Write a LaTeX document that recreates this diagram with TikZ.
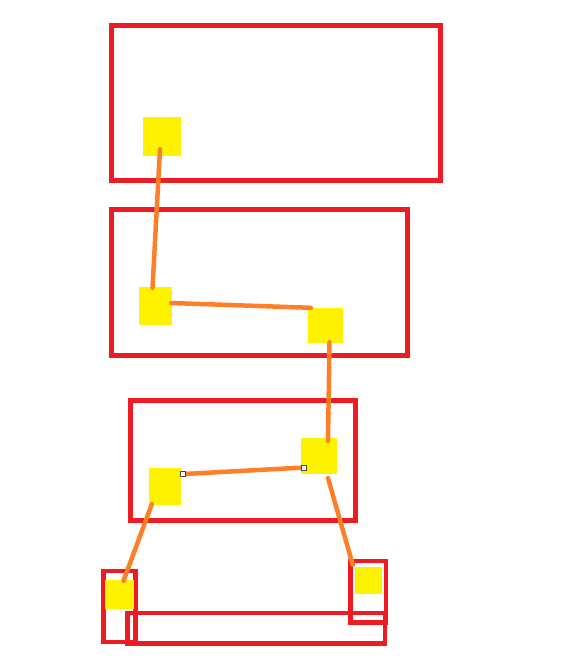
\documentclass[tikz,border=0pt]{standalone}
\usepackage{xcolor}
\usepackage{tikz}
\definecolor{framered}{RGB}{237, 28, 36}
\definecolor{padyellow}{RGB}{255, 242, 0}
\definecolor{linkorange}{RGB}{255, 127, 39}
\definecolor{handlegray}{RGB}{70, 70, 70}

\begin{document}
\begin{tikzpicture}[x=1pt, y=-1pt,
    frame/.style={draw=framered, line width=5pt},
    pad/.style={fill=padyellow, inner sep=0pt},
    link/.style={draw=linkorange, line width=4.5pt, line cap=round},
    handle/.style={draw=handlegray, fill=white, line width=0.9pt, minimum size=5pt, inner sep=0pt}]
        \useasboundingbox (0,0) rectangle (560,661);

        % Rahmen
        \draw[frame] (111.5,25.5) rectangle (440.2,180.3);
        \draw[frame] (111.5,209.5) rectangle (407.5,355);
        \draw[frame] (130.3,400.3) rectangle (355.3,520.3);
        \draw[frame, line width=4.3pt] (103.5,571.2) rectangle (135.5,641.8);
        \draw[frame, line width=4.3pt] (127.5,613.2) rectangle (385.2,643.5);
        \draw[frame, line width=4.3pt] (350.5,561.2) rectangle (385.8,622.5);

        % Felder
        \node[pad, minimum width=38pt, minimum height=39pt] (sqA) at (162,136.5) {};
        \node[pad, minimum width=33pt, minimum height=38pt] (sqB) at (155.5,306) {};
        \node[pad, minimum width=35pt, minimum height=35pt] (sqC) at (325.5,325.5) {};
        \node[pad, minimum width=32pt, minimum height=37pt] (sqD) at (165,486.5) {};
        \node[pad, minimum width=36pt, minimum height=36pt] (sqE) at (319,456) {};
        \node[pad, minimum width=29pt, minimum height=29pt] (sqF) at (119.5,594.5) {};
        \node[pad, minimum width=27pt, minimum height=27pt] (sqG) at (368.5,580.5) {};

        % Verbindungen
        \draw[link] ([shift={(-2,-7)}]sqA.south) -- ([shift={(-3,1)}]sqB.north);
        \draw[link] ([shift={(-1,-3)}]sqB.east) -- ([shift={(3,0)}]sqC.north west);
        \draw[link] ([shift={(4,-1)}]sqC.south) -- ([shift={(9,3)}]sqE.north);
        \coordinate (pD) at ([shift={(1.3,6.3)}]sqD.north east);
        \coordinate (pE) at ([shift={(3.3,-6.7)}]sqE.south west);
        \draw[link] (pD) -- (pE);
        \draw[link] ([shift={(3,-1)}]sqD.south west) -- ([shift={(4,1)}]sqF.north);
        \draw[link] ([shift={(9,4)}]sqE.south) -- ([shift={(-2,-2)}]sqG.north west);

        % Anfasser
        \node[handle] (hD) at (pD) {};
        \node[handle] (hE) at (pE) {};
    \end{tikzpicture}
\end{document}
